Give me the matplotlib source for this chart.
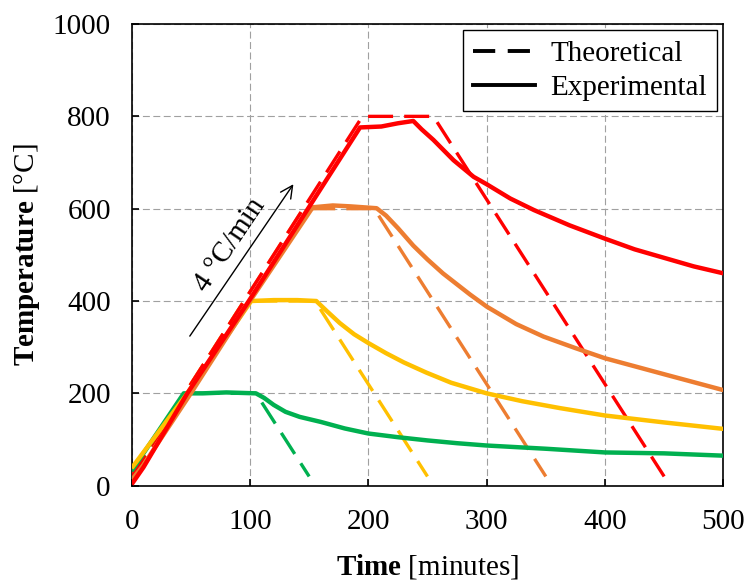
import matplotlib
matplotlib.use("Agg")
import matplotlib.pyplot as plt
from matplotlib.lines import Line2D

plt.rcParams['font.family'] = ['Liberation Serif', 'DejaVu Serif']
plt.rcParams['mathtext.fontset'] = 'custom'
plt.rcParams['mathtext.rm'] = 'Liberation Serif'
plt.rcParams['mathtext.bf'] = 'Liberation Serif:bold'
plt.rcParams['lines.scale_dashes'] = False

colors = {"200": "#00B050", "400": "#FFC000", "600": "#ED7D31", "800": "#FF0000"}

# Theoretical profiles (time [min], temperature [°C])
theo_t = {
    "200": [0, 45, 105, 150],
    "400": [0, 95, 155, 250],
    "600": [0, 145, 205, 350],
    "800": [0, 195, 255, 450],
}
theo_T = {
    "200": [20, 200, 200, 20],
    "400": [20, 400, 400, 20],
    "600": [20, 600, 600, 20],
    "800": [20, 800, 800, 20],
}

# Experimental profiles
exp_t = {
    "200": [0, 44, 60, 80, 105, 112, 120, 130, 142, 160, 180, 200, 225, 250, 275, 300, 350, 400, 450, 500],
    "400": [0, 47, 101, 120, 140, 156, 165, 176, 188, 200, 215, 230, 249, 270, 300, 330, 362, 400, 450, 500],
    "600": [0, 10, 50, 100, 153, 170, 185, 207, 215, 225, 238, 250, 263, 275, 286, 300, 325, 348, 375, 400, 452, 500],
    "800": [0, 10, 47, 99, 149, 193, 211, 225, 238, 245, 255, 272, 289, 300, 320, 340, 370, 399, 425, 452, 475, 500],
}
exp_T = {
    "200": [32, 200, 200, 202, 200, 190, 175, 160, 149, 138, 124, 113, 105, 98, 92, 87, 80, 72, 70, 65],
    "400": [38, 200, 400, 402, 402, 400, 378, 352, 328, 309, 287, 267, 245, 223, 200, 183, 168, 152, 137, 123],
    "600": [12, 45, 200, 400, 603, 607, 605, 601, 585, 558, 520, 490, 460, 436, 414, 388, 350, 323, 298, 276, 240, 207],
    "800": [3, 40, 200, 400, 600, 776, 778, 785, 790, 772, 749, 705, 669, 653, 622, 597, 564, 536, 512, 492, 475, 460],
}
order = ["200", "400", "600", "800"]

fig = plt.figure(figsize=(7.49, 5.86), dpi=100)
ax = fig.add_axes([0.1758, 0.1712, 0.7899, 0.7878])

for k in order:
    ax.plot(theo_t[k], theo_T[k], color=colors[k], lw=2.4, linestyle=(0, (18, 8)), zorder=3)
for k in order:
    ax.plot(exp_t[k], exp_T[k], color=colors[k], lw=3.2, solid_capstyle='butt',
            solid_joinstyle='round', zorder=4)

ax.set_xlim(0, 500)
ax.set_ylim(0, 1000)
ax.set_xticks([0, 100, 200, 300, 400, 500])
ax.set_yticks([0, 200, 400, 600, 800, 1000])
ax.grid(True, color='#a0a0a0', linestyle=(0, (5, 2.5)), linewidth=0.8, zorder=0)
ax.set_axisbelow(True)
ax.tick_params(direction='in', length=5, width=1.2, labelsize=21)
ax.tick_params(axis='x', pad=17)
ax.tick_params(axis='y', pad=15)
for s in ax.spines.values():
    s.set_linewidth(1.2)
    s.set_color('black')

ax.set_xlabel(r"$\mathbf{Time}$ [minutes]", fontsize=21, labelpad=12)
ax.set_ylabel(r"$\mathbf{Temperature}$ [°C]", fontsize=21, labelpad=8)

# annotation arrow
ax.annotate("", xy=(138, 658), xytext=(47.8, 319),
            arrowprops=dict(arrowstyle='->', color='black', lw=1, mutation_scale=22))
ax.text(83, 521, "4 °C/min", fontsize=21, rotation=56, ha='center', va='center')

handles = [Line2D([], [], color='black', lw=2.8, linestyle=(0, (16, 9))),
           Line2D([], [], color='black', lw=2.8)]
leg = ax.legend(handles, ["Theoretical", "Experimental"], loc='upper right', fontsize=21,
                frameon=True, fancybox=False, edgecolor='black', framealpha=1,
                borderaxespad=0.22, handlelength=2.15, labelspacing=0.25, handletextpad=0.5,
                borderpad=0.35)
leg.get_frame().set_linewidth(1.0)

fig.savefig("out.png", dpi=100)
